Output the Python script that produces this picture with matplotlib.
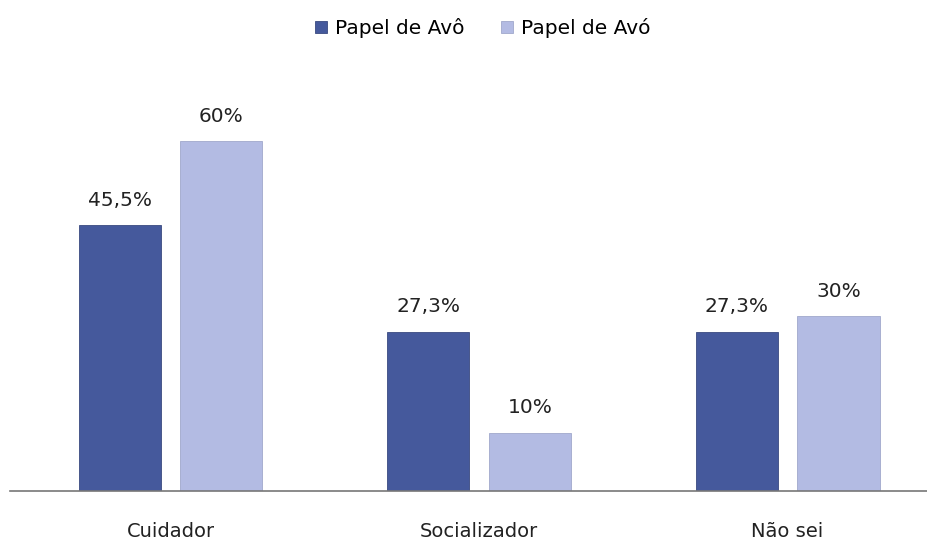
import matplotlib
matplotlib.use("Agg")
import matplotlib.pyplot as plt
import numpy as np

categories = ["Cuidador", "Socializador", "Não sei"]
series_names = ["Papel de Avô", "Papel de Avó"]
avo_m = [45.5, 27.3, 27.3]
avo_f = [60.0, 10.0, 30.0]
labels_m = ["45,5%", "27,3%", "27,3%"]
labels_f = ["60%", "10%", "30%"]

DARK = "#45599c"
LIGHT = "#b3bbe3"

fig = plt.figure(figsize=(9.28, 5.49), dpi=100)
ax = fig.add_axes([10 / 928, 1 - 491 / 549, 918 / 928, 391 / 549])

x = np.arange(len(categories))
w = 0.266
off = 0.165
b1 = ax.bar(x - off, avo_m, w, color=DARK, edgecolor="#3a4a80", linewidth=0.6,
            label=series_names[0])
b2 = ax.bar(x + off, avo_f, w, color=LIGHT, edgecolor="#a0a8cc", linewidth=0.6,
            label=series_names[1])

for bars, labs in ((b1, labels_m), (b2, labels_f)):
    for rect, lab in zip(bars, labs):
        ax.annotate(lab, (rect.get_x() + rect.get_width() / 2, rect.get_height()),
                    xytext=(0, 11), textcoords="offset points",
                    ha="center", va="bottom", fontsize=14.5, color="#222222")

ax.set_xlim(-0.52, 2.455)
ax.set_ylim(0, 67)
for s in ("top", "right", "left"):
    ax.spines[s].set_visible(False)
ax.spines["bottom"].set_color("#777777")
ax.spines["bottom"].set_linewidth(1.2)
ax.set_yticks([])
ax.set_xticks(x)
ax.set_xticklabels(categories, fontsize=14, color="#222222")
ax.tick_params(axis="x", length=0, pad=22)

fig.legend(handles=[b1, b2], labels=series_names, loc="center",
           bbox_to_anchor=(483 / 928, 1 - 28 / 549), ncol=2, frameon=False,
           fontsize=14.5, handlelength=0.6, handleheight=0.6, handletextpad=0.4,
           columnspacing=1.8)

fig.savefig("out.png", dpi=100)
